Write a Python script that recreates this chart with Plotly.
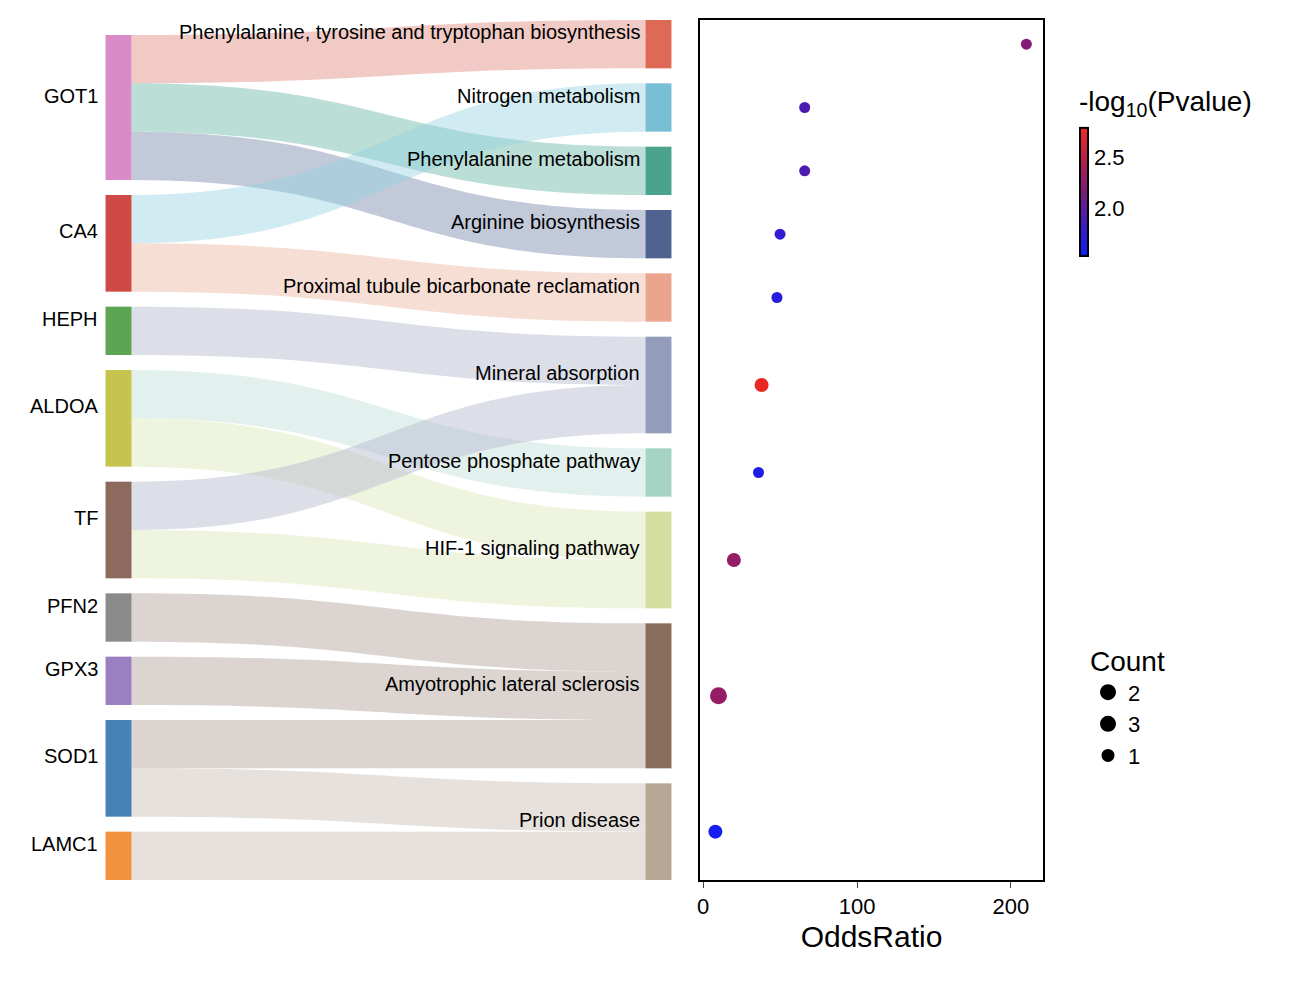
import plotly.graph_objects as go

genes = ["GOT1", "CA4", "HEPH", "ALDOA", "TF", "PFN2", "GPX3", "SOD1", "LAMC1"]
gene_colors = ["#D98BC8", "#D04A45", "#5BA553", "#C7C34F", "#8C6A5D",
               "#8A8A8A", "#9A7FC1", "#4682B4", "#F0913E"]
pathways = ["Phenylalanine, tyrosine and tryptophan biosynthesis", "Nitrogen metabolism",
            "Phenylalanine metabolism", "Arginine biosynthesis",
            "Proximal tubule bicarbonate reclamation", "Mineral absorption",
            "Pentose phosphate pathway", "HIF-1 signaling pathway",
            "Amyotrophic lateral sclerosis", "Prion disease"]
path_colors = ["#DE6A55", "#78BFD6", "#4BA38E", "#4F6290", "#EAA58E",
               "#939DBB", "#A6D4C4", "#D3DE9F", "#8A6E5B", "#B8A794"]
link_colors = ["rgba(230,150,140,0.5)", "rgba(150,210,225,0.45)", "rgba(120,190,175,0.5)",
               "rgba(120,135,170,0.45)", "rgba(240,190,170,0.5)", "rgba(185,190,210,0.5)",
               "rgba(190,225,215,0.45)", "rgba(220,230,185,0.45)", "rgba(175,160,150,0.45)",
               "rgba(205,195,185,0.5)"]
links = [("GOT1", 0), ("GOT1", 2), ("GOT1", 3), ("CA4", 1), ("CA4", 4),
         ("HEPH", 5), ("ALDOA", 6), ("ALDOA", 7), ("TF", 5), ("TF", 7),
         ("PFN2", 8), ("GPX3", 8), ("SOD1", 8), ("SOD1", 9), ("LAMC1", 9)]
odds_ratio = [210, 66, 66, 50, 48, 38, 36, 20, 10, 8]
neglog_p = [2.2, 1.9, 1.9, 1.75, 1.7, 2.75, 1.65, 2.3, 2.3, 1.6]
counts = [1, 1, 1, 1, 1, 2, 1, 2, 3, 2]

W, H = 1308, 986
OFF = 8  # page body margin
def px(x):
    return (x - OFF) / W
def py(y):
    return 1 - (y - OFF) / H

top, bot, pad = 20, 880, 15
gene_counts = [sum(1 for g, _ in links if g == name) for name in genes]
unit = (bot - top - (len(pathways) - 1) * pad) / sum(counts)

def centers(cnts, start):
    out, y = [], start
    for c in cnts:
        out.append(y + c * unit / 2)
        y += c * unit + pad
    return out

path_c = centers(counts, top)
left_total = sum(gene_counts) * unit + (len(genes) - 1) * pad
gene_c = centers(gene_counts, bot - left_total)

sx0, sx1 = 105 + 13, 672 - 13
node_x = [0.001] * len(genes) + [0.999] * len(pathways)
node_y = [(c - top) / (bot - top) for c in gene_c + path_c]

fig = go.Figure()
fig.add_trace(go.Sankey(
    domain=dict(x=[px(sx0), px(sx1)], y=[py(bot), py(top)]),
    arrangement="fixed",
    node=dict(label=[""] * (len(genes) + len(pathways)), x=node_x, y=node_y,
              color=gene_colors + path_colors, pad=pad, thickness=26,
              line=dict(width=0)),
    link=dict(source=[genes.index(g) for g, _ in links],
              target=[len(genes) + p for _, p in links],
              value=[1] * len(links),
              color=[link_colors[p] for _, p in links]),
))

for name, c in zip(genes, gene_c):
    fig.add_annotation(x=px(100), y=py(c - 12), xref="paper", yref="paper", text=name,
                       showarrow=False, xanchor="right", yanchor="middle",
                       font=dict(size=20, color="black"))
for name, c in zip(pathways, path_c):
    fig.add_annotation(x=px(642), y=py(c - 12), xref="paper", yref="paper", text=name,
                       showarrow=False, xanchor="right", yanchor="middle",
                       font=dict(size=20, color="black"))

size_map = {1: 11, 2: 14, 3: 17}
fig.add_trace(go.Scatter(
    x=odds_ratio, y=path_c, mode="markers", showlegend=False,
    marker=dict(size=[size_map[c] for c in counts], color=neglog_p, opacity=1,
                colorscale=[[0, "#0A1EFF"], [0.5, "#7A1A7A"], [1, "#F0281E"]],
                cmin=1.53, cmax=2.79, line=dict(width=0),
                colorbar=dict(title=dict(text="-log<sub>10</sub>(Pvalue)", side="top",
                                         font=dict(size=28)),
                              x=px(1070), xanchor="left", y=py(78), yanchor="top",
                              len=188 / H, lenmode="fraction", thickness=8,
                              outlinewidth=2, outlinecolor="black", tickformat=".1f",
                              tickvals=[2.0, 2.5], ticks="", tickfont=dict(size=22))),
    xaxis="x", yaxis="y"))

for c in [2, 3, 1]:
    fig.add_trace(go.Scatter(x=[None], y=[None], mode="markers", name=str(c),
                             marker=dict(size=size_map[c] + 2, color="black")))

fig.update_layout(
    width=W, height=H, margin=dict(l=0, r=0, t=0, b=0, autoexpand=False),
    paper_bgcolor="white", plot_bgcolor="white",
    font=dict(family="Liberation Sans, Arial", color="black"),
    xaxis=dict(domain=[px(700), px(1043)], range=[-2, 220.8], tickvals=[0, 100, 200],
               showgrid=False, zeroline=False, showline=True, linecolor="black",
               linewidth=2, mirror=True, ticks="outside", ticklen=6,
               tickfont=dict(size=22),
               title=dict(text="OddsRatio", font=dict(size=30), standoff=8)),
    yaxis=dict(domain=[py(bot), py(top)], range=[bot, top], showgrid=False,
               zeroline=False, showline=True, linecolor="black", linewidth=2,
               mirror=True, showticklabels=False, ticks=""),
    legend=dict(title=dict(text="Count   ", font=dict(size=28)), x=px(1088), y=py(635),
                xanchor="left", yanchor="top", font=dict(size=22), itemsizing="trace",
                tracegroupgap=10, bgcolor="rgba(0,0,0,0)"),
)

fig.write_html("out.html")
